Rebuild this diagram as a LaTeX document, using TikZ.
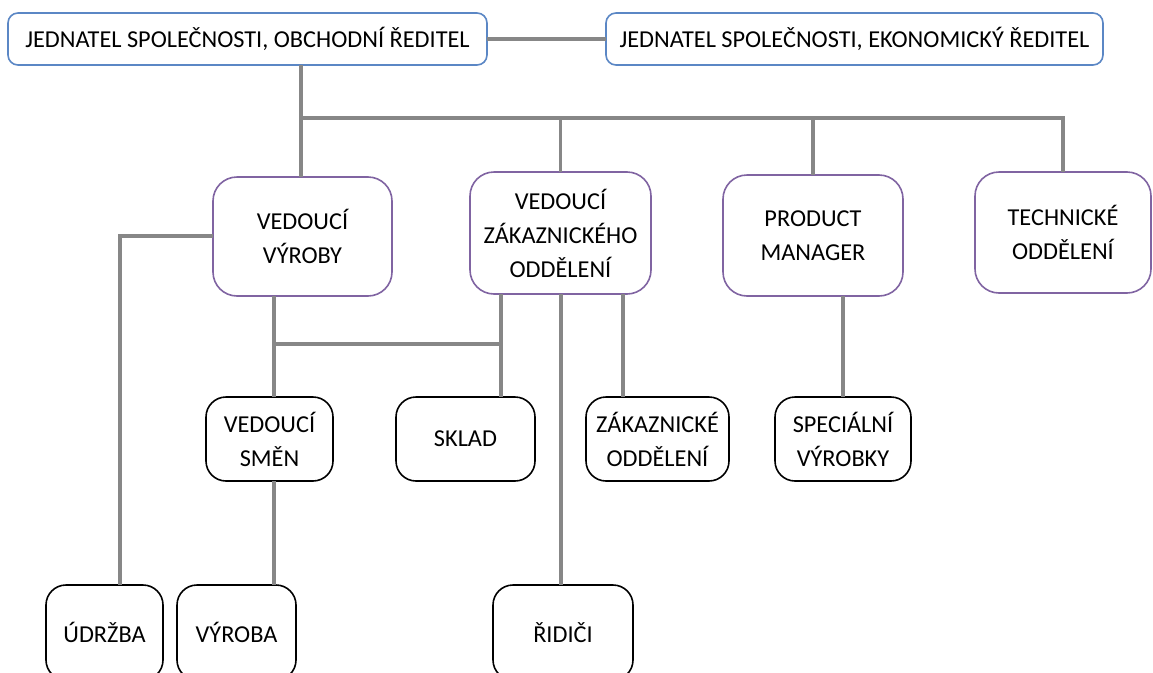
\documentclass[tikz,border=0pt]{standalone}
\usepackage{fontspec}
\setmainfont{Carlito}
\definecolor{topblue}{HTML}{5B87C5}
\definecolor{midpurple}{HTML}{8064A2}
\definecolor{conngray}{HTML}{878787}
\begin{document}
\begin{tikzpicture}[x=1pt,y=-1pt,
  box/.style={rectangle, draw, line width=1.6pt, outer sep=0pt, inner sep=0pt, align=center,
    font=\fontsize{24.3}{34}\selectfont, fill=white},
  topbox/.style={box, draw=topblue, rounded corners=10pt, minimum height=52pt},
  midbox/.style={box, draw=midpurple, rounded corners=24pt, minimum height=120pt},
  lowbox/.style={box, draw=black, rounded corners=20pt},
  conn/.style={draw=conngray, line width=3.2pt}]
\useasboundingbox (0,0) rectangle (1153,672);
\clip (0,0) rectangle (1153,672);
% nodes
\node[topbox, minimum width=479pt] (ob) at (247.5,39) {JEDNATEL SPOLEČNOSTI, OBCHODNÍ ŘEDITEL};
\node[topbox, minimum width=497pt] (ek) at (854.5,39) {JEDNATEL SPOLEČNOSTI, EKONOMICKÝ ŘEDITEL};
\node[midbox, minimum width=179pt, minimum height=119pt] (vv) at (302.5,236.5) {VEDOUCÍ\\VÝROBY};
\node[midbox, minimum width=181pt, minimum height=122pt] (vzo) at (560.5,233) {VEDOUCÍ\\ZÁKAZNICKÉHO\\ODDĚLENÍ};
\node[midbox, minimum width=180pt, minimum height=121pt] (pm) at (813,235.5) {PRODUCT\\MANAGER};
\node[midbox, minimum width=176pt, minimum height=121pt] (to) at (1063,232.5) {TECHNICKÉ\\ODDĚLENÍ};
\node[lowbox, minimum width=127pt, minimum height=84pt] (vs) at (269.5,439) {VEDOUCÍ\\SMĚN};
\node[lowbox, minimum width=139pt, minimum height=84pt] (sk) at (465.5,439) {SKLAD};
\node[lowbox, minimum width=143pt, minimum height=84pt] (zo) at (657.5,439) {ZÁKAZNICKÉ\\ODDĚLENÍ};
\node[lowbox, minimum width=136pt, minimum height=84pt] (sv) at (843,439) {SPECIÁLNÍ\\VÝROBKY};
\node[lowbox, minimum width=117pt, minimum height=95pt] (ud) at (104.5,632.5) {ÚDRŽBA};
\node[lowbox, minimum width=119pt, minimum height=95pt] (vy) at (236.5,632.5) {VÝROBA};
\node[lowbox, minimum width=140pt, minimum height=95pt] (ri) at (563,632.5) {ŘIDIČI};
% helper coordinates
\coordinate (bus) at (301,118);
\coordinate (uc) at (120,236);
\coordinate (j1) at (274,344);
\coordinate (j2) at (501,344);
\coordinate (zx) at (623,0);
\coordinate (rx) at (561,0);
% connectors
\path[conn] (ob.east) -- (ek.west);
\path[conn] (ob.south -| bus) -- (bus) -- (bus -| to.north) -- (to.north);
\path[conn] (bus) -- (vv.north -| bus);
\path[conn] (bus -| vzo.north) -- (vzo.north);
\path[conn] (bus -| pm.north) -- (pm.north);
\path[conn] (vv.west |- uc) -- (uc) -- (uc |- ud.north);
\path[conn] (vv.south -| j1) -- (j1) -- (j1 |- vs.north);
\path[conn] (vs.south -| j1) -- (j1 |- vy.north);
\path[conn] (j1) -- (j2);
\path[conn] (vzo.south -| j2) -- (j2 |- sk.north);
\path[conn] (vzo.south -| rx) -- (rx |- ri.north);
\path[conn] (vzo.south -| zx) -- (zx |- zo.north);
\path[conn] (pm.south -| sv.north) -- (sv.north);
\end{tikzpicture}
\end{document}
